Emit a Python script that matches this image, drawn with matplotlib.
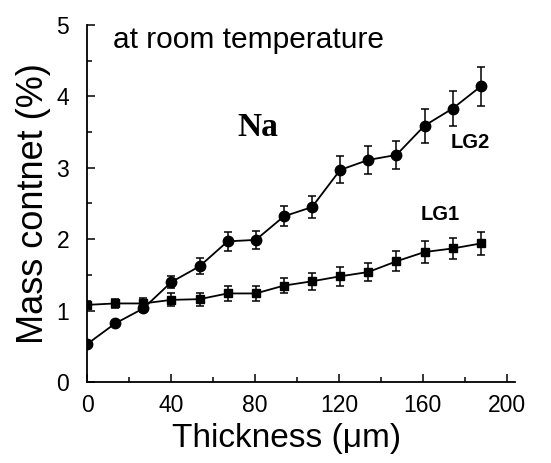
import matplotlib.pyplot as plt
from matplotlib.ticker import MultipleLocator

# ---------------------------------------------------------
# data
# ---------------------------------------------------------
thickness = [0, 13.4, 26.8, 40.2, 53.6, 67, 80.4, 93.8, 107.2,
             120.6, 134, 147.4, 160.8, 174.2, 187.6]

lg2 = [0.53, 0.82, 1.03, 1.40, 1.62, 1.97, 1.99, 2.32, 2.45,
       2.97, 3.11, 3.18, 3.59, 3.83, 4.14]
lg2_err = [0.04, 0.04, 0.05, 0.09, 0.11, 0.13, 0.13, 0.14, 0.15,
           0.19, 0.20, 0.20, 0.24, 0.25, 0.27]

lg1 = [1.08, 1.10, 1.10, 1.15, 1.16, 1.24, 1.24, 1.35, 1.41,
       1.48, 1.54, 1.69, 1.82, 1.87, 1.94]
lg1_err = [0.05, 0.06, 0.07, 0.09, 0.09, 0.10, 0.10, 0.11, 0.12,
           0.13, 0.13, 0.14, 0.15, 0.15, 0.16]

x_ticks = [0, 40, 80, 120, 160, 200]
y_ticks = [0, 1, 2, 3, 4, 5]

plt.rcParams['font.family'] = ['Liberation Sans', 'DejaVu Sans']

fig = plt.figure(figsize=(5.51, 4.63), dpi=100)
ax = fig.add_axes([0.158, 0.175, 0.777, 0.771])

ax.errorbar(thickness, lg2, yerr=lg2_err, color='black', marker='o',
            markersize=7.5, linewidth=1.3, elinewidth=1.1, capsize=2.8,
            capthick=1.1)
ax.errorbar(thickness, lg1, yerr=lg1_err, color='black', marker='s',
            markersize=6, linewidth=1.3, elinewidth=1.1, capsize=2.8,
            capthick=1.1)

ax.set_xlim(0, 204)
ax.set_ylim(0, 5)
ax.set_xticks(x_ticks)
ax.set_yticks(y_ticks)
ax.xaxis.set_minor_locator(MultipleLocator(20))
ax.yaxis.set_minor_locator(MultipleLocator(0.5))

ax.spines['top'].set_visible(False)
ax.spines['right'].set_visible(False)
for s in ['left', 'bottom']:
    ax.spines[s].set_linewidth(1.3)

ax.tick_params(which='both', direction='in', width=1.1)
ax.tick_params(which='major', length=6, labelsize=16.5)
ax.tick_params(axis='x', which='major', pad=9)
ax.tick_params(axis='y', which='major', pad=13)
ax.tick_params(which='minor', length=3.5)

ax.set_xlabel('Thickness (\u03bcm)', fontsize=24, labelpad=4)
ax.xaxis.set_label_coords(0.465, -0.115)
ax.set_ylabel('Mass contnet (%)', fontsize=26, labelpad=4)

ax.text(12.4, 4.79, 'at room temperature', fontsize=21.5, va='center')
ax.text(71.5, 3.57, 'Na', fontsize=24, fontweight='bold',
        family='Liberation Serif', va='center')
ax.text(173, 3.36, 'LG2', fontsize=14.5, fontweight='bold', va='center')
ax.text(159, 2.35, 'LG1', fontsize=14.5, fontweight='bold', va='center')

fig.savefig('out.png', dpi=100)
plt.close()
